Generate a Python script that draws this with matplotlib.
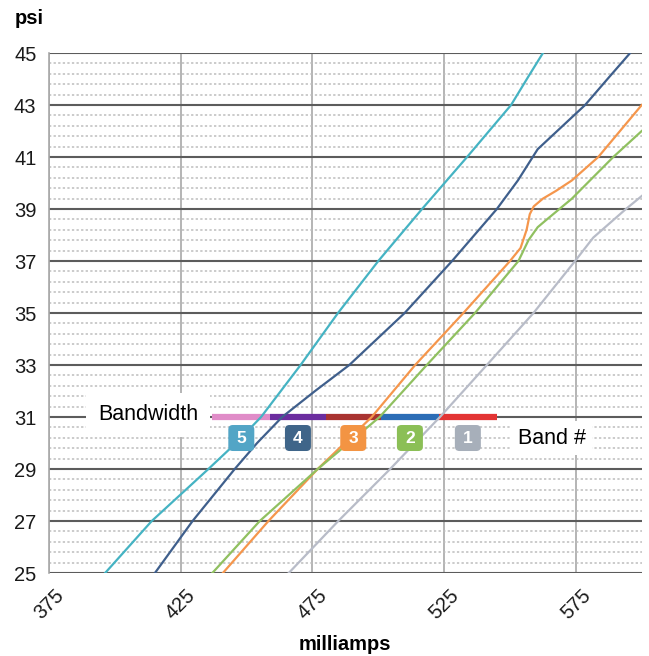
import numpy as np
import matplotlib.pyplot as plt
from matplotlib.patches import FancyBboxPatch
from matplotlib import transforms

plt.rcParams['font.family'] = ['Liberation Sans', 'DejaVu Sans']

# curves: milliamps (x) against psi (y)
psi_5 = [25, 27, 29, 30, 31, 32, 33, 35, 37, 39, 41, 43, 44.1, 45]
ma_5 = [396.3, 414, 435.5, 446, 455.5, 463, 470.5, 484.7, 500, 516.6, 533.7, 550.4, 557, 562.5]

psi_4 = [25, 27, 29, 30, 31, 32, 33, 35, 37, 39, 40.1, 41.3, 43, 44, 45]
ma_4 = [415.2, 429.5, 445.5, 454, 463.5, 476, 489, 510, 528, 545, 553, 560.5, 578.5, 587, 595.6]

psi_3 = [25, 27, 29, 31, 33, 35, 37, 37.5, 38.2, 38.8, 39.1, 39.4, 39.7, 40.1, 41, 43]
ma_3 = [441, 458.3, 477, 497.5, 514, 532.3, 550, 554, 556.3, 557.5, 559, 562.5, 567.5, 573.5, 583.5, 600]

psi_2 = [25, 27, 29, 31, 33, 35, 37, 37.8, 38.3, 38.6, 39.4, 41, 42]
ma_2 = [437, 455, 477, 500.5, 518.4, 536.7, 553.2, 557, 560.5, 564, 573.5, 589.2, 600]

psi_1 = [25, 27, 29, 31, 33, 35, 37, 37.9, 39, 39.5]
ma_1 = [466, 484.8, 504.5, 523.4, 541.2, 558.9, 574.7, 581.6, 594, 600]

band_labels = ['5', '4', '3', '2', '1']
# bandwidth bar: segment edges in milliamps at psi 31
bw_psi = 31
bw_edges = [437, 459, 480, 501, 523, 545]

x_ticks = [375, 425, 475, 525, 575]
y_ticks = [25, 27, 29, 31, 33, 35, 37, 39, 41, 43, 45]

line_colors = ['#45b3c3', '#3f5f8c', '#f5964c', '#90c060', '#b8bcc8']
badge_colors = ['#52a5c6', '#3f6589', '#f39443', '#8bbf56', '#a7afba']
bw_colors = ['#e08cc8', '#6b2d9f', '#a93331', '#2c6db6', '#e33434']

fig = plt.figure(figsize=(6.49, 6.56), dpi=100)
ax = fig.add_axes([0.0755, 0.1265, 0.9133, 0.7927])

ax.set_xlim(375, 600)
ax.set_ylim(25, 45)

# grid
ax.set_xticks(x_ticks)
ax.set_yticks(y_ticks)
ax.set_yticks(np.arange(25, 45.01, 0.4), minor=True)
ax.tick_params(which='both', length=0, labelsize=14.5, colors='#1a1a1a')
ax.tick_params(axis='y', pad=9)
ax.tick_params(axis='x', pad=9)
for lab in ax.get_xticklabels():
    lab.set_rotation(45)
    lab.set_ha('center')
ax.grid(axis='y', which='major', color='#5c5c5c', lw=1.5)
ax.grid(axis='y', which='minor', color='#bdbdbd', lw=1.1, ls=(0, (1.5, 1.5)))
ax.grid(axis='x', which='major', color='#a8a8a8', lw=1.2)
for s in ['top', 'right', 'bottom']:
    ax.spines[s].set_visible(False)
ax.spines['left'].set_color('#a8a8a8')
ax.spines['left'].set_linewidth(1.2)
ax.set_axisbelow(True)

# bandwidth bar
for i in range(5):
    ax.plot(bw_edges[i:i + 2], [bw_psi, bw_psi], color=bw_colors[i], lw=4.5,
            solid_capstyle='butt', zorder=3)

# curves
curves = [(ma_5, psi_5), (ma_4, psi_4), (ma_3, psi_3), (ma_2, psi_2), (ma_1, psi_1)]
for (xs, ys), c in zip(curves, line_colors):
    ax.plot(xs, ys, color=c, lw=1.6, zorder=4, solid_joinstyle='round')

# band number badges under each segment
for i, lab in enumerate(band_labels):
    cx = (bw_edges[i] + bw_edges[i + 1]) / 2
    trans = fig.dpi_scale_trans + transforms.ScaledTranslation(cx, bw_psi, ax.transData)
    box = FancyBboxPatch((-0.13, -0.34), 0.26, 0.26,
                         boxstyle='round,pad=0,rounding_size=0.045',
                         fc=badge_colors[i], ec='none', transform=trans, zorder=5)
    ax.add_patch(box)
    ax.annotate(lab, xy=(cx, bw_psi), xytext=(0, -15.3), textcoords='offset points',
                ha='center', va='center', color='white', fontsize=12.5,
                fontweight='bold', zorder=6)

ax.set_xlim(375, 600)
ax.set_ylim(25, 45)

ax.annotate('Bandwidth', xy=(bw_edges[0], bw_psi), xytext=(-10, 1.5),
            textcoords='offset points', ha='right', va='center', fontsize=15.5,
            zorder=5, bbox=dict(boxstyle='square,pad=0.55', fc='white', ec='none'))
ax.annotate('Band #', xy=(bw_edges[-1], bw_psi), xytext=(15, -15.3),
            textcoords='offset points', ha='left', va='center', fontsize=15.5,
            zorder=5, bbox=dict(boxstyle='square,pad=0.3', fc='white', ec='none'))

fig.text(15 / 649, 1 - 18 / 656, 'psi', fontsize=14.5, fontweight='bold', va='center')
fig.text(345 / 649, 1 - 645 / 656, 'milliamps', fontsize=14.5, fontweight='bold',
         ha='center', va='center')

fig.savefig('out.png', dpi=100)
